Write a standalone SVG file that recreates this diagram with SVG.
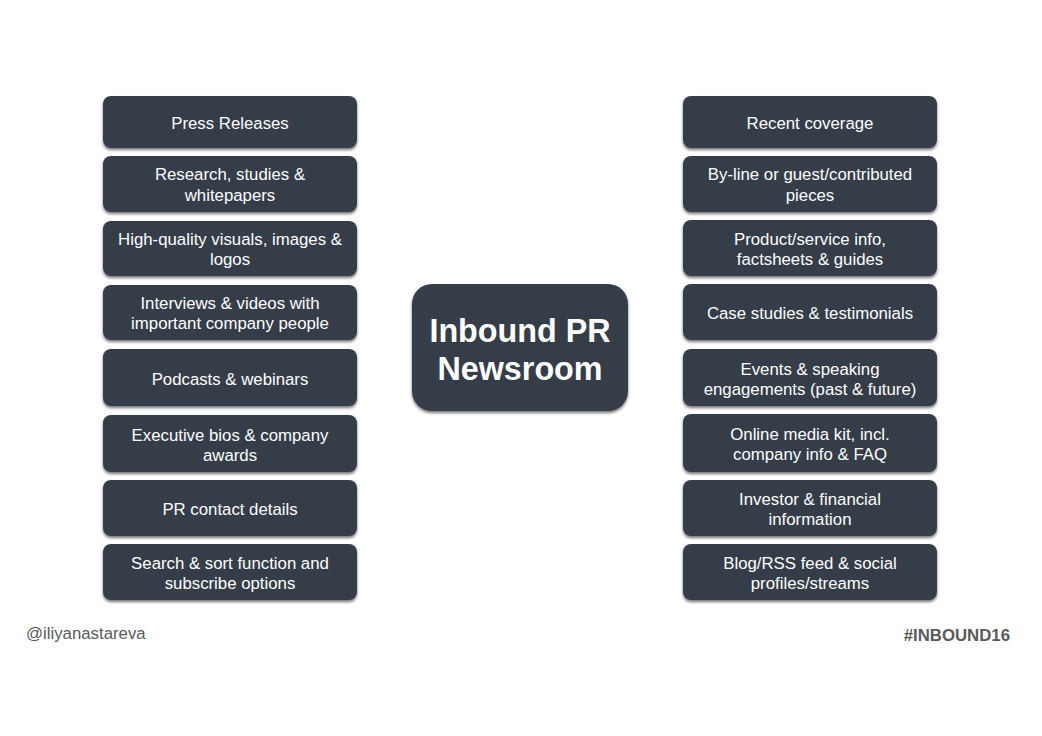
<svg xmlns="http://www.w3.org/2000/svg" width="1042" height="736" viewBox="0 0 1042 736">
<defs>
<filter id="sh" x="-10%" y="-20%" width="120%" height="150%">
<feGaussianBlur in="SourceAlpha" stdDeviation="1.5"/>
<feOffset dx="0" dy="2" result="b"/>
<feComponentTransfer><feFuncA type="linear" slope="0.55"/></feComponentTransfer>
<feMerge><feMergeNode/><feMergeNode in="SourceGraphic"/></feMerge>
</filter>
</defs>
<style>
.box{fill:#363e48;filter:url(#sh)}
.t{font-family:"Liberation Sans",Arial,sans-serif;font-size:16.8px;fill:#ffffff;text-anchor:middle}
.h{font-family:"Liberation Sans",Arial,sans-serif;font-size:32.3px;font-weight:bold;fill:#ffffff;text-anchor:middle}
.f{font-family:"Liberation Sans",Arial,sans-serif;font-size:16.8px;fill:#5a5a5a}
</style>
<rect width="1042" height="736" fill="#ffffff"/>
<g id="connectors"></g>
<g id="center"><rect class="box" x="412" y="284" width="216" height="127" rx="20"/><text class="h" x="520" y="342">Inbound PR</text><text class="h" x="520" y="380">Newsroom</text></g>
<g id="l1"><rect class="box" x="103" y="96" width="254" height="52" rx="8"/><text class="t" x="230" y="129">Press Releases</text></g>
<g id="l2"><rect class="box" x="103" y="156" width="254" height="56" rx="8"/><text class="t" x="230" y="180">Research, studies &amp;</text><text class="t" x="230" y="201">whitepapers</text></g>
<g id="l3"><rect class="box" x="103" y="221" width="254" height="55" rx="8"/><text class="t" x="230" y="245">High-quality visuals, images &amp;</text><text class="t" x="230" y="265">logos</text></g>
<g id="l4"><rect class="box" x="103" y="285" width="254" height="55" rx="8"/><text class="t" x="230" y="309">Interviews &amp; videos with</text><text class="t" x="230" y="329">important company people</text></g>
<g id="l5"><rect class="box" x="103" y="349" width="254" height="57" rx="8"/><text class="t" x="230" y="385">Podcasts &amp; webinars</text></g>
<g id="l6"><rect class="box" x="103" y="415" width="254" height="57" rx="8"/><text class="t" x="230" y="441">Executive bios &amp; company</text><text class="t" x="230" y="461">awards</text></g>
<g id="l7"><rect class="box" x="103" y="480" width="254" height="56" rx="8"/><text class="t" x="230" y="515">PR contact details</text></g>
<g id="l8"><rect class="box" x="103" y="544" width="254" height="56" rx="8"/><text class="t" x="230" y="569">Search &amp; sort function and</text><text class="t" x="230" y="589">subscribe options</text></g>
<g id="r1"><rect class="box" x="683" y="96" width="254" height="52" rx="8"/><text class="t" x="810" y="129">Recent coverage</text></g>
<g id="r2"><rect class="box" x="683" y="156" width="254" height="56" rx="8"/><text class="t" x="810" y="180">By-line or guest/contributed</text><text class="t" x="810" y="201">pieces</text></g>
<g id="r3"><rect class="box" x="683" y="220" width="254" height="56" rx="8"/><text class="t" x="810" y="245">Product/service info,</text><text class="t" x="810" y="265">factsheets &amp; guides</text></g>
<g id="r4"><rect class="box" x="683" y="284" width="254" height="56" rx="8"/><text class="t" x="810" y="319">Case studies &amp; testimonials</text></g>
<g id="r5"><rect class="box" x="683" y="349" width="254" height="57" rx="8"/><text class="t" x="810" y="375">Events &amp; speaking</text><text class="t" x="810" y="395">engagements (past &amp; future)</text></g>
<g id="r6"><rect class="box" x="683" y="414" width="254" height="58" rx="8"/><text class="t" x="810" y="440">Online media kit, incl.</text><text class="t" x="810" y="460">company info &amp; FAQ</text></g>
<g id="r7"><rect class="box" x="683" y="480" width="254" height="56" rx="8"/><text class="t" x="810" y="505">Investor &amp; financial</text><text class="t" x="810" y="525">information</text></g>
<g id="r8"><rect class="box" x="683" y="544" width="254" height="56" rx="8"/><text class="t" x="810" y="569">Blog/RSS feed &amp; social</text><text class="t" x="810" y="589">profiles/streams</text></g>
<text class="f" x="26" y="639">@iliyanastareva</text>
<text class="f" x="1010" y="641" text-anchor="end" font-weight="bold" font-size="17.5px" fill="#6a6a6a">#INBOUND16</text>
</svg>
